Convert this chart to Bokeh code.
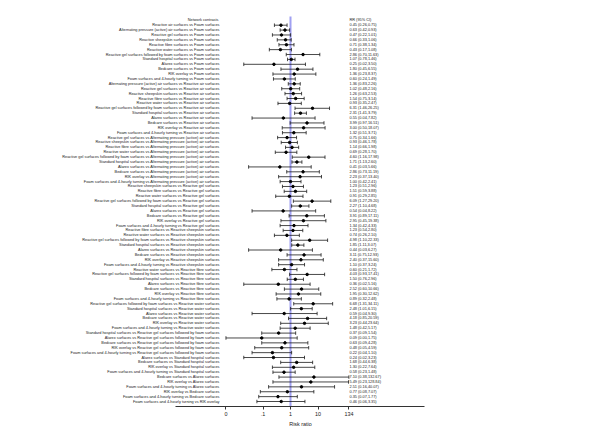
import numpy as np
from bokeh.plotting import figure
from bokeh.models import Range1d, FixedTicker
from bokeh.embed import file_html
from bokeh.resources import INLINE
from bokeh.core.properties import value

contrasts = [
    "Reactive air surfaces vs Foam surfaces",
    "Alternating pressure (active) air surfaces vs Foam surfaces",
    "Reactive gel surfaces vs Foam surfaces",
    "Reactive sheepskin surfaces vs Foam surfaces",
    "Reactive fibre surfaces vs Foam surfaces",
    "Reactive water surfaces vs Foam surfaces",
    "Reactive gel surfaces followed by foam surfaces vs Foam surfaces",
    "Standard hospital surfaces vs Foam surfaces",
    "Alarex surfaces vs Foam surfaces",
    "Bedcare surfaces vs Foam surfaces",
    "RIK overlay vs Foam surfaces",
    "Foam surfaces and 4-hourly turning vs Foam surfaces",
    "Alternating pressure (active) air surfaces vs Reactive air surfaces",
    "Reactive gel surfaces vs Reactive air surfaces",
    "Reactive sheepskin surfaces vs Reactive air surfaces",
    "Reactive fibre surfaces vs Reactive air surfaces",
    "Reactive water surfaces vs Reactive air surfaces",
    "Reactive gel surfaces followed by foam surfaces vs Reactive air surfaces",
    "Standard hospital surfaces vs Reactive air surfaces",
    "Alarex surfaces vs Reactive air surfaces",
    "Bedcare surfaces vs Reactive air surfaces",
    "RIK overlay vs Reactive air surfaces",
    "Foam surfaces and 4-hourly turning vs Reactive air surfaces",
    "Reactive gel surfaces vs Alternating pressure (active) air surfaces",
    "Reactive sheepskin surfaces vs Alternating pressure (active) air surfaces",
    "Reactive fibre surfaces vs Alternating pressure (active) air surfaces",
    "Reactive water surfaces vs Alternating pressure (active) air surfaces",
    "Reactive gel surfaces followed by foam surfaces vs Alternating pressure (active) air surfaces",
    "Standard hospital surfaces vs Alternating pressure (active) air surfaces",
    "Alarex surfaces vs Alternating pressure (active) air surfaces",
    "Bedcare surfaces vs Alternating pressure (active) air surfaces",
    "RIK overlay vs Alternating pressure (active) air surfaces",
    "Foam surfaces and 4-hourly turning vs Alternating pressure (active) air surfaces",
    "Reactive sheepskin surfaces vs Reactive gel surfaces",
    "Reactive fibre surfaces vs Reactive gel surfaces",
    "Reactive water surfaces vs Reactive gel surfaces",
    "Reactive gel surfaces followed by foam surfaces vs Reactive gel surfaces",
    "Standard hospital surfaces vs Reactive gel surfaces",
    "Alarex surfaces vs Reactive gel surfaces",
    "Bedcare surfaces vs Reactive gel surfaces",
    "RIK overlay vs Reactive gel surfaces",
    "Foam surfaces and 4-hourly turning vs Reactive gel surfaces",
    "Reactive fibre surfaces vs Reactive sheepskin surfaces",
    "Reactive water surfaces vs Reactive sheepskin surfaces",
    "Reactive gel surfaces followed by foam surfaces vs Reactive sheepskin surfaces",
    "Standard hospital surfaces vs Reactive sheepskin surfaces",
    "Alarex surfaces vs Reactive sheepskin surfaces",
    "Bedcare surfaces vs Reactive sheepskin surfaces",
    "RIK overlay vs Reactive sheepskin surfaces",
    "Foam surfaces and 4-hourly turning vs Reactive sheepskin surfaces",
    "Reactive water surfaces vs Reactive fibre surfaces",
    "Reactive gel surfaces followed by foam surfaces vs Reactive fibre surfaces",
    "Standard hospital surfaces vs Reactive fibre surfaces",
    "Alarex surfaces vs Reactive fibre surfaces",
    "Bedcare surfaces vs Reactive fibre surfaces",
    "RIK overlay vs Reactive fibre surfaces",
    "Foam surfaces and 4-hourly turning vs Reactive fibre surfaces",
    "Reactive gel surfaces followed by foam surfaces vs Reactive water surfaces",
    "Standard hospital surfaces vs Reactive water surfaces",
    "Alarex surfaces vs Reactive water surfaces",
    "Bedcare surfaces vs Reactive water surfaces",
    "RIK overlay vs Reactive water surfaces",
    "Foam surfaces and 4-hourly turning vs Reactive water surfaces",
    "Standard hospital surfaces vs Reactive gel surfaces followed by foam surfaces",
    "Alarex surfaces vs Reactive gel surfaces followed by foam surfaces",
    "Bedcare surfaces vs Reactive gel surfaces followed by foam surfaces",
    "RIK overlay vs Reactive gel surfaces followed by foam surfaces",
    "Foam surfaces and 4-hourly turning vs Reactive gel surfaces followed by foam surfaces",
    "Alarex surfaces vs Standard hospital surfaces",
    "Bedcare surfaces vs Standard hospital surfaces",
    "RIK overlay vs Standard hospital surfaces",
    "Foam surfaces and 4-hourly turning vs Standard hospital surfaces",
    "Bedcare surfaces vs Alarex surfaces",
    "RIK overlay vs Alarex surfaces",
    "Foam surfaces and 4-hourly turning vs Alarex surfaces",
    "RIK overlay vs Bedcare surfaces",
    "Foam surfaces and 4-hourly turning vs Bedcare surfaces",
    "Foam surfaces and 4-hourly turning vs RIK overlay",
]

rr = [0.45, 0.63, 0.47, 0.66, 0.71, 0.43, 2.86, 1.07, 0.25, 1.80, 1.36, 0.60,
      1.36, 1.02, 1.26, 1.54, 0.93, 6.31, 2.31, 0.55, 3.99, 3.00, 1.32,
      0.75, 0.93, 1.14, 0.69, 4.60, 1.71, 0.41, 2.86, 2.23, 1.00,
      1.23, 1.51, 0.91, 6.09, 2.27, 0.54, 3.91, 2.95, 1.34,
      1.23, 0.74, 4.98, 1.85, 0.44, 3.11, 2.40, 1.10,
      0.60, 4.03, 1.50, 0.36, 2.52, 1.95, 0.89,
      6.68, 2.48, 0.59, 4.18, 3.23, 1.48,
      0.37, 0.09, 0.63, 0.48, 0.22,
      0.24, 1.68, 1.30, 0.58,
      7.10, 5.49, 2.51,
      0.77, 0.35,
      0.46]

lo = [0.26, 0.42, 0.22, 0.33, 0.38, 0.17, 0.70, 0.78, 0.02, 0.45, 0.23, 0.24,
      0.83, 0.48, 0.63, 0.75, 0.35, 1.46, 1.41, 0.04, 0.97, 0.50, 0.51,
      0.34, 0.46, 0.66, 0.28, 1.16, 1.13, 0.03, 0.73, 0.37, 0.42,
      0.51, 0.59, 0.29, 1.27, 1.10, 0.04, 0.89, 0.45, 0.42,
      0.54, 0.26, 1.10, 1.11, 0.03, 0.75, 0.37, 0.37,
      0.21, 0.93, 0.76, 0.02, 0.60, 0.30, 0.32,
      1.31, 1.01, 0.04, 0.85, 0.44, 0.42,
      0.09, 0.0045, 0.09, 0.05, 0.04,
      0.02, 0.44, 0.22, 0.23,
      0.38, 0.23, 0.16,
      0.08, 0.07,
      0.06]

hi = [0.75, 0.93, 1.01, 1.06, 1.34, 1.08, 11.63, 1.46, 3.50, 6.55, 8.37, 1.49,
      2.26, 2.16, 2.53, 3.14, 2.47, 26.25, 3.79, 7.82, 16.51, 18.07, 3.71,
      1.66, 1.78, 1.98, 1.70, 17.98, 2.60, 5.66, 11.19, 13.40, 2.41,
      2.96, 3.88, 2.85, 29.20, 4.68, 8.22, 17.11, 19.38, 4.33,
      2.80, 2.10, 22.33, 3.07, 6.27, 12.93, 15.60, 3.24,
      1.72, 17.41, 2.96, 5.16, 10.66, 12.62, 2.48,
      34.11, 6.15, 9.30, 20.59, 23.64, 5.17,
      1.54, 1.75, 4.28, 4.59, 1.10,
      3.23, 6.38, 7.64, 1.48,
      132.67, 128.84, 40.07,
      7.07, 1.77,
      3.35]

tick_values = [0.0045, 0.1, 1, 10, 134]
tick_labels = ["0", ".1", "1", "10", "134"]

n = len(contrasts)
ys = [-(i + 1) for i in range(n)]
rr_text = [f"{r:.2f} ({a:.2f},{b:.2f})" for r, a, b in zip(rr, lo, hi)]

# layout constants (picture pixels, decades relative to RR = 1)
PX_PER_DEC = 27.5
ONE_PX = 290
def at(px):
    return 10 ** ((px - ONE_PX) / PX_PER_DEC)

FONT = value("Liberation Sans")
TXT = "3.85px"
INK = "#1a1a1a"

p = figure(width=592, height=429, output_backend="svg", toolbar_location=None,
           x_axis_type="log",
           x_range=Range1d(at(8), at(592)),
           y_range=Range1d(-79.02, 2.417),
           min_border_left=8, min_border_right=0, min_border_top=8,
           min_border_bottom=23)
p.outline_line_color = None
p.xgrid.visible = False
p.ygrid.visible = False
p.yaxis.visible = False
p.background_fill_color = "white"
p.border_fill_color = "white"

# reference line at RR = 1
p.segment(x0=[1], y0=[0.78], x1=[1], y1=[-79.02], line_color="#a0a0f2", line_width=2)

# CIs
p.segment(x0=lo, y0=ys, x1=hi, y1=ys, line_color=INK, line_width=0.8)
p.scatter(x=lo + hi, y=ys + ys, marker="dash", angle=np.pi / 2, size=3.5,
          line_color=INK, line_width=0.8)
p.scatter(x=rr, y=ys, marker="circle", size=2.5, color="black")

# text columns
p.text(x=[at(219)] * n, y=ys, text=contrasts, text_align="right",
       text_baseline="middle", text_font=FONT, text_font_size=TXT, text_color=INK)
p.text(x=[at(349)] * n, y=ys, text=rr_text, text_align="left",
       text_baseline="middle", text_font=FONT, text_font_size=TXT, text_color=INK)
p.text(x=[at(218)], y=[0.05], text=["Network contrasts"], text_align="right",
       text_baseline="middle", text_font=FONT, text_font_size=TXT, text_color=INK)
p.text(x=[at(349)], y=[0.05], text=["RR (95% CI)"], text_align="left",
       text_baseline="middle", text_font=FONT, text_font_size=TXT, text_color=INK)

ax = p.xaxis[0]
ax.ticker = FixedTicker(ticks=tick_values, minor_ticks=[])
ax.major_label_overrides = {v: l for v, l in zip(tick_values, tick_labels)}
ax.bounds = (at(175), at(424))
ax.axis_label = "Risk ratio"
ax.axis_label_text_font = "Liberation Sans"
ax.axis_label_text_font_size = "5.4px"
ax.axis_label_text_font_style = "normal"
ax.axis_label_text_color = INK
ax.axis_label_standoff = 2
ax.major_label_text_font = "Liberation Sans"
ax.major_label_text_font_size = "5.4px"
ax.major_label_text_color = INK
ax.major_label_standoff = 2
ax.major_tick_out = 3
ax.major_tick_in = 0
ax.minor_tick_out = 0
ax.minor_tick_in = 0
ax.axis_line_color = "#333333"
ax.major_tick_line_color = "#333333"

open("out.html", "w").write(file_html(p, INLINE))
